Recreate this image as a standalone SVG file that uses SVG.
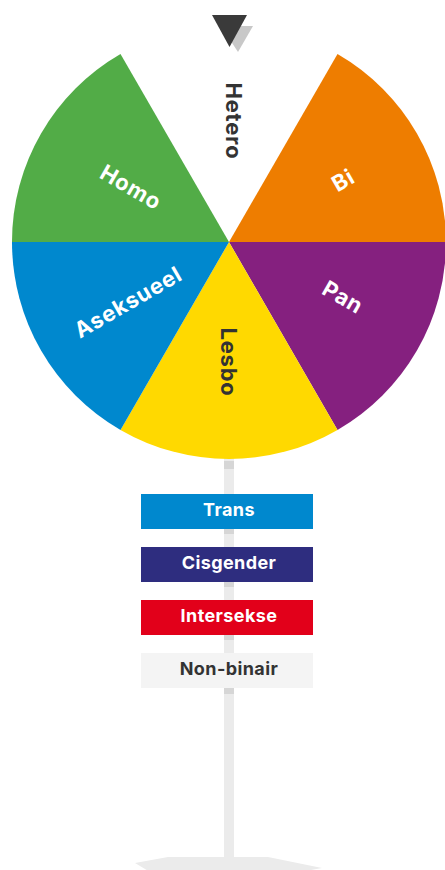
<svg xmlns="http://www.w3.org/2000/svg" width="445" height="870" viewBox="0 0 445 870">
<style>
.lbl{font-family:Inter,"Noto Sans","Liberation Sans",sans-serif;font-weight:700;font-size:22px;letter-spacing:0.8px;text-anchor:middle}
.w{fill:#ffffff}
.d{fill:#333333}
.box{font-family:Inter,"Noto Sans","Liberation Sans",sans-serif;font-weight:700;font-size:18px;letter-spacing:0.4px;text-anchor:middle}
.pole{fill:#ebebeb}
.sh{fill:#d6d6d6}
</style>
<g id="stand">
<rect class="pole" x="224" y="455" width="10" height="405"/>
<rect class="sh" x="224" y="461" width="10" height="8"/>
<rect class="sh" x="224" y="529" width="10" height="5"/>
<rect class="sh" x="224" y="582" width="10" height="5"/>
<rect class="sh" x="224" y="635" width="10" height="5"/>
<rect class="sh" x="224" y="688" width="10" height="6"/>
<polygon class="pole" points="135,863 168,857 268,857 322,868 300,872 150,872"/>
</g>
<g id="wheel">
<g id="hetero"><path d="M229,242 L120.5,54.07 A217,217 0 0 1 337.5,54.07 Z" fill="#ffffff"/><text class="lbl d" transform="translate(234,121) rotate(90)" dy="0.36em">Hetero</text></g>
<g id="bi"><path d="M229,242 L337.5,54.07 A217,217 0 0 1 446,242 Z" fill="#ee7d00"/><text class="lbl w" transform="translate(343,180) rotate(-30)" dy="0.36em">Bi</text></g>
<g id="pan"><path d="M229,242 L446,242 A217,217 0 0 1 337.5,429.93 Z" fill="#85207f"/><text class="lbl w" transform="translate(343,297) rotate(30)" dy="0.36em">Pan</text></g>
<g id="lesbo"><path d="M229,242 L337.5,429.93 A217,217 0 0 1 120.5,429.93 Z" fill="#ffd900"/><text class="lbl d" transform="translate(229,362) rotate(90)" dy="0.36em">Lesbo</text></g>
<g id="aseksueel"><path d="M229,242 L120.5,429.93 A217,217 0 0 1 12,242 Z" fill="#0088ce"/><text class="lbl w" transform="translate(128,302) rotate(-30)" dy="0.36em">Aseksueel</text></g>
<g id="homo"><path d="M229,242 L12,242 A217,217 0 0 1 120.5,54.07 Z" fill="#52ac47"/><text class="lbl w" transform="translate(131,187) rotate(30)" dy="0.36em">Homo</text></g>
</g>
<g id="pointer">
<polygon points="221,26 253,26 238,52" fill="#c8c8c8"/>
<polygon points="212,15 247,15 229.5,47" fill="#3a3a3a"/>
</g>
<g id="trans"><rect x="141" y="494" width="172" height="35" fill="#0088ce"/><text class="box w" x="229" y="516">Trans</text></g>
<g id="cisgender"><rect x="141" y="547" width="172" height="35" fill="#2e2d7f"/><text class="box w" x="229" y="569">Cisgender</text></g>
<g id="intersekse"><rect x="141" y="600" width="172" height="35" fill="#e2001a"/><text class="box w" x="229" y="622">Intersekse</text></g>
<g id="nonbinair"><rect x="141" y="653" width="172" height="35" fill="#f4f4f4"/><text class="box d" x="229" y="675">Non-binair</text></g>
<g id="connectors"/>
</svg>
